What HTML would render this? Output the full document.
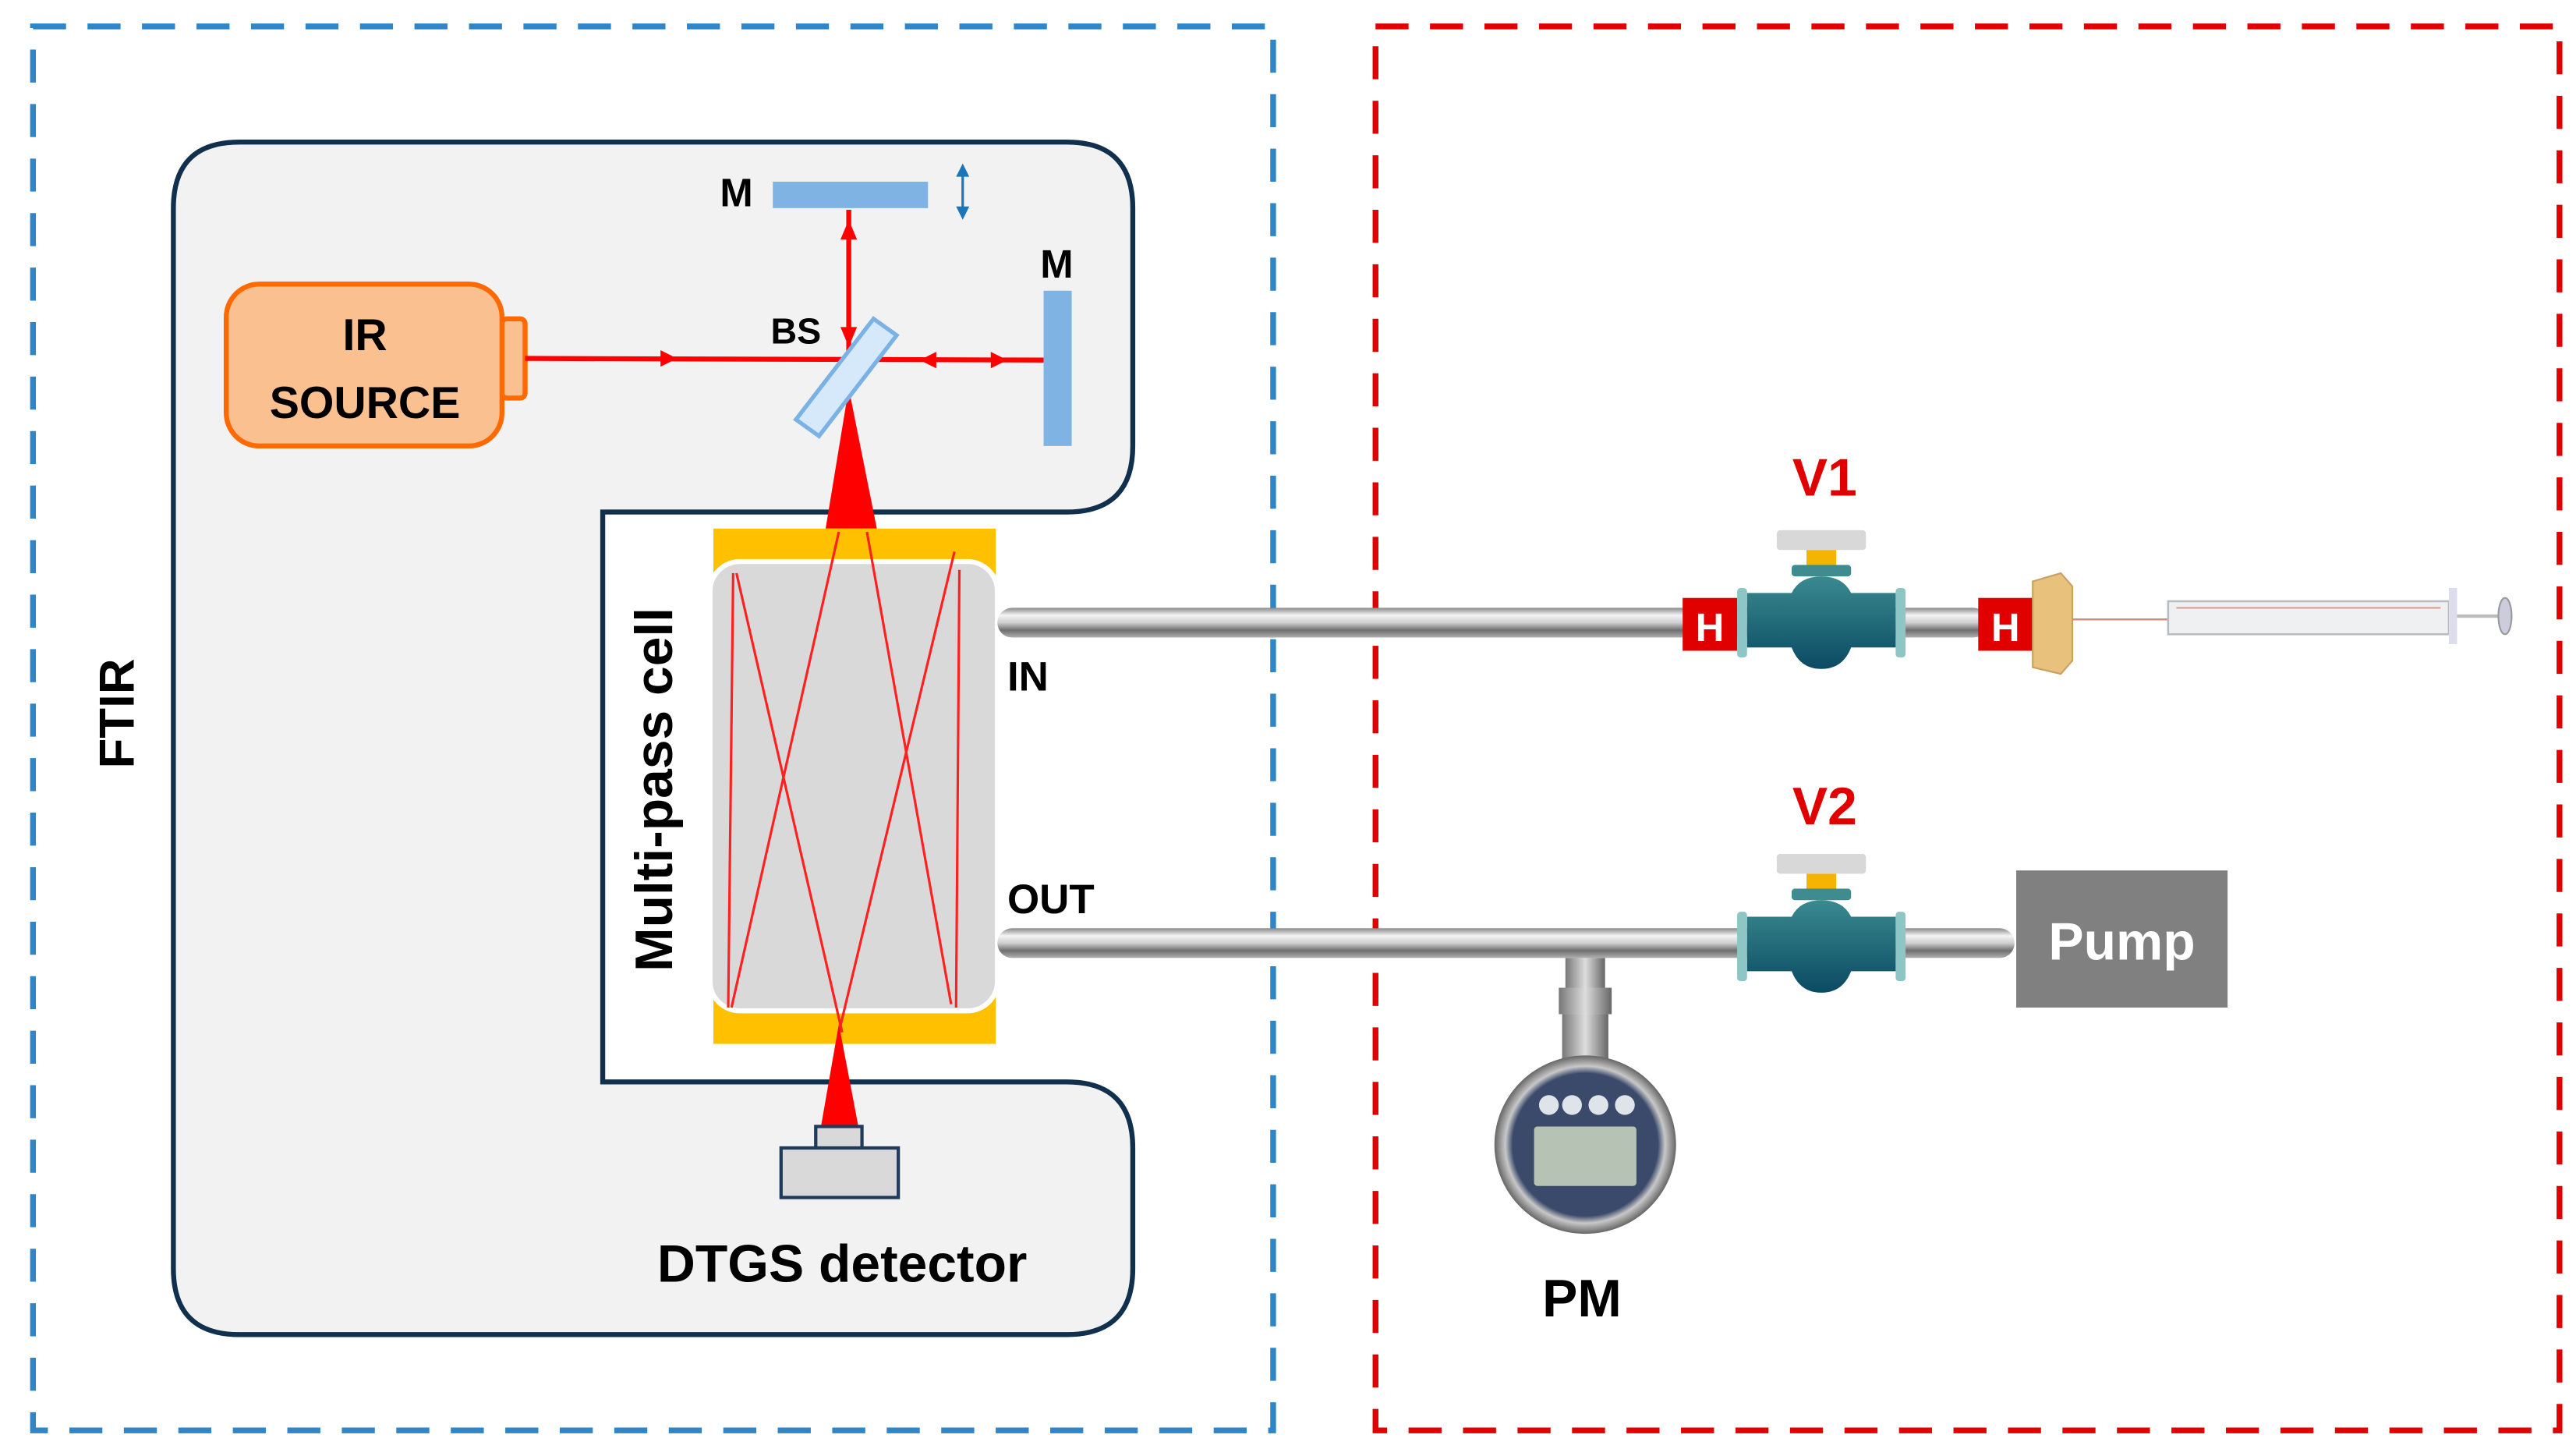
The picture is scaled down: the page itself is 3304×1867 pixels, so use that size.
<!DOCTYPE html>
<html><head><meta charset="utf-8"><style>
html,body{margin:0;padding:0;background:#fff;}
svg{display:block;}
text{font-family:"Liberation Sans",sans-serif;font-weight:bold;}
</style></head><body>
<svg width="3304" height="1867" viewBox="0 0 1560 881.5" preserveAspectRatio="none" xmlns="http://www.w3.org/2000/svg">
<defs>
<linearGradient id="tube" x1="0" y1="0" x2="0" y2="1">
<stop offset="0" stop-color="#8a8a8a"/><stop offset="0.25" stop-color="#f4f4f4"/><stop offset="0.5" stop-color="#cfcfcf"/><stop offset="0.75" stop-color="#6e6e6e"/><stop offset="1" stop-color="#b0b0b0"/>
</linearGradient>
<linearGradient id="teal" x1="0" y1="0" x2="0" y2="1">
<stop offset="0" stop-color="#3a8a8f"/><stop offset="1" stop-color="#0b4a63"/>
</linearGradient>
<linearGradient id="stem" x1="0" y1="0" x2="1" y2="0">
<stop offset="0" stop-color="#777"/><stop offset="0.5" stop-color="#ddd"/><stop offset="1" stop-color="#666"/>
</linearGradient>
<radialGradient id="gauge" cx="0.5" cy="0.5" r="0.5">
<stop offset="0.8" stop-color="#3b4a6b"/><stop offset="0.88" stop-color="#c8c8c8"/><stop offset="1" stop-color="#666"/>
</radialGradient>
</defs>
<!-- dashed frames -->
<rect x="20" y="16" width="751" height="850" fill="none" stroke="#2e86c8" stroke-width="3.5" stroke-dasharray="20,13"/>
<rect x="833" y="16" width="717" height="850" fill="none" stroke="#e00000" stroke-width="3.5" stroke-dasharray="20,13"/>
<!-- FTIR housing -->
<path d="M145,86 L646,86 Q686,86 686,126 L686,270 Q686,310 646,310 L365,310 L365,655 L646,655 Q686,655 686,695 L686,768 Q686,808 646,808 L145,808 Q105,808 105,768 L105,126 Q105,86 145,86 Z" fill="#f2f2f2" stroke="#10304d" stroke-width="3"/>
<text x="0" y="0" font-size="30" text-anchor="middle" transform="translate(81,432) rotate(-90)">FTIR</text>
<!-- IR source -->
<rect x="304" y="193" width="14" height="48" rx="3" fill="#fbc08f" stroke="#ff6a00" stroke-width="3"/>
<rect x="137" y="172" width="167" height="98" rx="20" fill="#fbc08f" stroke="#ff6a00" stroke-width="3"/>
<text x="221" y="212" font-size="27" text-anchor="middle">IR</text>
<text x="221" y="253" font-size="27" text-anchor="middle">SOURCE</text>
<!-- beams -->
<line x1="318" y1="217" x2="632" y2="218" stroke="#ff0000" stroke-width="3"/>
<polygon points="410,217 400,212 400,222" fill="#f00"/>
<polygon points="557,218 567,213 567,223" fill="#f00"/>
<polygon points="610,218 600,213 600,223" fill="#f00"/>
<line x1="514" y1="127" x2="514" y2="218" stroke="#ff0000" stroke-width="3"/>
<polygon points="514,133 509,145 519,145" fill="#f00"/>
<polygon points="514,210 509,198 519,198" fill="#f00"/>
<polygon points="514,235 500,320 531,320" fill="#f00"/>
<!-- BS -->
<polygon points="529,193 543,203 496,264 482,254" fill="#d6e9fb" stroke="#7ab2e6" stroke-width="2.5"/>
<text x="482" y="208" font-size="22" text-anchor="middle">BS</text>
<!-- mirrors -->
<rect x="468" y="110" width="94" height="16" fill="#7fb3e3"/>
<text x="446" y="125" font-size="24" text-anchor="middle">M</text>
<line x1="583" y1="105" x2="583" y2="128" stroke="#1b75bb" stroke-width="1.5"/>
<polygon points="583,99 579,107 587,107" fill="#1b75bb"/>
<polygon points="583,133 579,125 587,125" fill="#1b75bb"/>
<rect x="632" y="176" width="17" height="94" fill="#7fb3e3"/>
<text x="640" y="168" font-size="24" text-anchor="middle">M</text>
<!-- cell -->
<rect x="432" y="320" width="171" height="312" fill="#ffc000"/>
<rect x="430" y="340" width="174" height="272" rx="18" fill="#d9d9d9" stroke="#fff" stroke-width="3"/>
<g stroke="#ff2020" stroke-width="1.5" fill="none">
<line x1="444" y1="347" x2="441" y2="610"/>
<line x1="446" y1="347" x2="510" y2="625"/>
<line x1="508" y1="322" x2="443" y2="610"/>
<line x1="525" y1="322" x2="576" y2="608"/>
<line x1="508" y1="625" x2="578" y2="334"/>
<line x1="581" y1="345" x2="579" y2="610"/>
</g>
<polygon points="508,620 497,683 520,683" fill="#f00"/>
<text x="0" y="0" font-size="32" text-anchor="middle" transform="translate(407,478) rotate(-90)">Multi-pass cell</text>
<!-- detector -->
<rect x="494" y="682" width="28" height="14" fill="#d9d9d9" stroke="#1f3a5a" stroke-width="2"/>
<rect x="473" y="695" width="71" height="30" fill="#d9d9d9" stroke="#1f3a5a" stroke-width="2"/>
<text x="510" y="776" font-size="32" text-anchor="middle">DTGS detector</text>
<!-- tubes -->
<rect x="604" y="368" width="600" height="18" rx="9" fill="url(#tube)"/>
<rect x="604" y="562" width="616" height="18" rx="9" fill="url(#tube)"/>
<text x="610" y="418" font-size="25">IN</text>
<text x="610" y="553" font-size="25">OUT</text>
<!-- V1 -->
<rect x="1019" y="362" width="33" height="32" fill="#e00000"/>
<text x="1035.5" y="388" font-size="24" fill="#fff" text-anchor="middle">H</text>
<g>
<rect x="1076" y="321" width="54" height="12" rx="2" fill="#d8d8d8"/>
<rect x="1094" y="333" width="18" height="10" fill="#f5b400"/>
<rect x="1085" y="342" width="36" height="7" rx="2" fill="#3f8b8f"/>
<path d="M1058,359 L1085,359 Q1090,349 1103,349 Q1116,349 1121,359 L1148,359 L1148,392 L1121,392 Q1116,405 1103,405 Q1090,405 1085,392 L1058,392 Z" fill="url(#teal)"/>
<rect x="1052" y="356" width="6" height="42" rx="2" fill="#8ec5c5"/>
<rect x="1148" y="356" width="6" height="42" rx="2" fill="#8ec5c5"/>
</g>
<text x="1105" y="300" font-size="32" fill="#e00000" text-anchor="middle">V1</text>
<rect x="1198" y="362" width="33" height="32" fill="#e00000"/>
<text x="1214.5" y="388" font-size="24" fill="#fff" text-anchor="middle">H</text>
<path d="M1231,352 L1248,347 L1255,355 L1255,400 L1248,408 L1231,404 Z" fill="#e8c27c" stroke="#c9a060" stroke-width="1"/>
<!-- syringe -->
<line x1="1255" y1="375" x2="1315" y2="375" stroke="#c89080" stroke-width="1.2"/>
<rect x="1313" y="364" width="170" height="20" fill="#eef0f2" stroke="#b8bcc0" stroke-width="1.2"/>
<line x1="1318" y1="368" x2="1478" y2="368" stroke="#d8a090" stroke-width="1"/>
<rect x="1483" y="356" width="5" height="34" fill="#dde"/>
<line x1="1488" y1="373" x2="1515" y2="373" stroke="#bbb" stroke-width="2"/>
<ellipse cx="1517" cy="373" rx="4" ry="11" fill="#ccd" stroke="#999"/>
<!-- V2 -->
<g transform="translate(0,196)">
<rect x="1076" y="321" width="54" height="12" rx="2" fill="#d8d8d8"/>
<rect x="1094" y="333" width="18" height="10" fill="#f5b400"/>
<rect x="1085" y="342" width="36" height="7" rx="2" fill="#3f8b8f"/>
<path d="M1058,359 L1085,359 Q1090,349 1103,349 Q1116,349 1121,359 L1148,359 L1148,392 L1121,392 Q1116,405 1103,405 Q1090,405 1085,392 L1058,392 Z" fill="url(#teal)"/>
<rect x="1052" y="356" width="6" height="42" rx="2" fill="#8ec5c5"/>
<rect x="1148" y="356" width="6" height="42" rx="2" fill="#8ec5c5"/>
</g>
<text x="1105" y="499" font-size="32" fill="#e00000" text-anchor="middle">V2</text>
<!-- pump -->
<rect x="1221" y="527" width="128" height="83" fill="#808080"/>
<text x="1285" y="581" font-size="32" fill="#fff" text-anchor="middle">Pump</text>
<!-- PM -->
<rect x="948" y="580" width="24" height="32" fill="url(#stem)"/>
<rect x="944" y="598" width="32" height="16" fill="url(#stem)"/>
<rect x="946" y="614" width="28" height="40" fill="url(#stem)"/>
<ellipse cx="960" cy="693" rx="55" ry="54" fill="url(#gauge)"/>
<rect x="929" y="682" width="62" height="36" rx="2" fill="#b6c3b4"/>
<circle cx="938" cy="669" r="6" fill="#dfe3ea"/><circle cx="952" cy="669" r="6" fill="#dfe3ea"/><circle cx="968" cy="669" r="6" fill="#dfe3ea"/><circle cx="984" cy="669" r="6" fill="#dfe3ea"/>
<text x="958" y="797" font-size="32" text-anchor="middle">PM</text>
</svg>
</body></html>
